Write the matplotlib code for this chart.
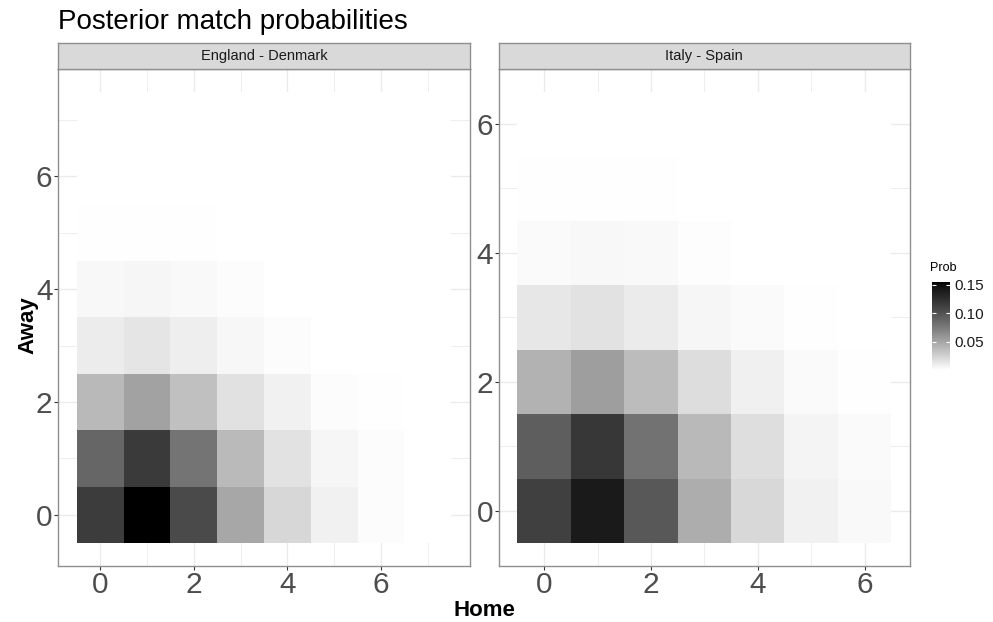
import numpy as np
import matplotlib
matplotlib.use("Agg")
import matplotlib.pyplot as plt
from matplotlib.colors import ListedColormap, Normalize

plt.rcParams['font.family'] = ['Liberation Sans', 'DejaVu Sans']

# match probabilities, rows = away goals, cols = home goals
matches = ["England - Denmark", "Italy - Spain"]

home_eng = [0, 1, 2, 3, 4, 5, 6, 7]
away_eng = [0, 1, 2, 3, 4, 5, 6, 7]
prob_eng = [
    [0.116, 0.155, 0.106, 0.049, 0.022, 0.0075, 0.0022, 0.0004],
    [0.088, 0.117, 0.079, 0.038, 0.016, 0.0054, 0.0022, 0.0004],
    [0.0386, 0.052, 0.0346, 0.0168, 0.0075, 0.0022, 0.0011, 0.0002],
    [0.0108, 0.0146, 0.0097, 0.0048, 0.0022, 0.0006, 0.0003, 0.0001],
    [0.0043, 0.0054, 0.0037, 0.0022, 0.0006, 0.0002, 0.0001, 0.0001],
    [0.0011, 0.0011, 0.0011, 0.0004, 0.0002, 0.0001, 0.0001, 0.0001],
    [0.0002, 0.0002, 0.0001, 0.0001, 0.0001, 0.0001, 0.0001, 0.0001],
    [0.0001, 0.0001, 0.0001, 0.0001, 0.0001, 0.0001, 0.0001, 0.0001],
]

home_ita = [0, 1, 2, 3, 4, 5, 6]
away_ita = [0, 1, 2, 3, 4, 5, 6]
prob_ita = [
    [0.113, 0.140, 0.097, 0.046, 0.0217, 0.0075, 0.0032],
    [0.093, 0.119, 0.081, 0.0386, 0.0178, 0.0064, 0.0027],
    [0.0425, 0.054, 0.0374, 0.0184, 0.0081, 0.0027, 0.0011],
    [0.013, 0.016, 0.0113, 0.0054, 0.0027, 0.0011, 0.0005],
    [0.0027, 0.0043, 0.0037, 0.0016, 0.0004, 0.0002, 0.0001],
    [0.0011, 0.0011, 0.0011, 0.0003, 0.0001, 0.0001, 0.0001],
    [0.0002, 0.0001, 0.0001, 0.0001, 0.0001, 0.0001, 0.0001],
]

legend_ticks = [0.05, 0.10, 0.15]


def lab_gray_cmap(n=256):
    # white -> black interpolated in L* like ggplot's gradient
    t = np.linspace(0, 1, n)
    L = 100 * (1 - t)
    Y = np.where(L > 8, ((L + 16) / 116) ** 3, L / 903.3)
    g = np.where(Y <= 0.0031308, 12.92 * Y, 1.055 * Y ** (1 / 2.4) - 0.055)
    g = np.clip(g, 0, 1)
    return ListedColormap(np.column_stack([g, g, g]))


cmap = lab_gray_cmap()
allvals = np.concatenate([np.ravel(prob_eng), np.ravel(prob_ita)])
norm = Normalize(vmin=allvals.min(), vmax=allvals.max())

fig = plt.figure(figsize=(9.93, 6.22), dpi=100)

border = '#8f8f8f'
panels = [
    (home_eng, away_eng, prob_eng, [0.0584, 0.0905, 0.4149, 0.7986]),
    (home_ita, away_ita, prob_ita, [0.5022, 0.0905, 0.4142, 0.7986]),
]

mesh = None
for i, (home, away, prob, rect) in enumerate(panels):
    ax = fig.add_axes(rect)
    xe = np.arange(len(home) + 1) - 0.5
    ye = np.arange(len(away) + 1) - 0.5
    mesh = ax.pcolormesh(xe, ye, np.array(prob), cmap=cmap, norm=norm, zorder=2)
    ex = 0.05 * len(home)
    ey = 0.05 * len(away)
    ax.set_xlim(xe[0] - ex, xe[-1] + ex)
    ax.set_ylim(ye[0] - ey, ye[-1] + ey)
    ax.set_xticks([0, 2, 4, 6])
    ax.set_yticks([0, 2, 4, 6])
    ax.set_xticks(np.arange(1, len(home), 2), minor=True)
    ax.set_yticks(np.arange(1, len(away), 2), minor=True)
    ax.set_axisbelow(True)
    ax.grid(True, which='major', color='#ebebeb', linewidth=1.0, zorder=0)
    ax.grid(True, which='minor', color='#ebebeb', linewidth=0.6, zorder=0)
    ax.tick_params(which='major', length=3, width=0.8, color='#333333',
                   labelsize=21.5, labelcolor='#4d4d4d', pad=1)
    ax.tick_params(which='minor', length=0)
    for s in ax.spines.values():
        s.set_color(border)
        s.set_linewidth(1.0)
        s.set_zorder(3)

    # facet strip
    sax = fig.add_axes([rect[0], rect[1] + rect[3], rect[2], 0.0413])
    sax.set_facecolor('#d9d9d9')
    sax.set_xticks([])
    sax.set_yticks([])
    for s in sax.spines.values():
        s.set_color(border)
        s.set_linewidth(1.0)
    sax.text(0.5, 0.5, matches[i], ha='center', va='center',
             fontsize=10.5, color='#1a1a1a', transform=sax.transAxes)

fig.text(58 / 993, 1 - 22 / 622, "Posterior match probabilities",
         fontsize=20, ha='left', va='center', color='black')
fig.text(484 / 993, 1 - 610 / 622, "Home", fontsize=16, fontweight='bold',
         ha='center', va='center')
fig.text(28 / 993, 1 - 325 / 622, "Away", fontsize=16, fontweight='bold',
         ha='center', va='center', rotation=90)

# colour bar
cax = fig.add_axes([0.9386, 0.405, 0.0181, 0.1415])
cb = fig.colorbar(mesh, cax=cax)
cb.outline.set_visible(False)
cb.set_ticks(legend_ticks)
cb.set_ticklabels([f"{v:.2f}" for v in legend_ticks])
cax.tick_params(direction='in', length=3, width=0.8, color='white',
                left=True, right=True, labelsize=11, labelcolor='#1a1a1a', pad=3)
fig.text(930 / 993, 1 - 268 / 622, "Prob", fontsize=9, ha='left', va='center')

fig.savefig("out.png", dpi=100)
